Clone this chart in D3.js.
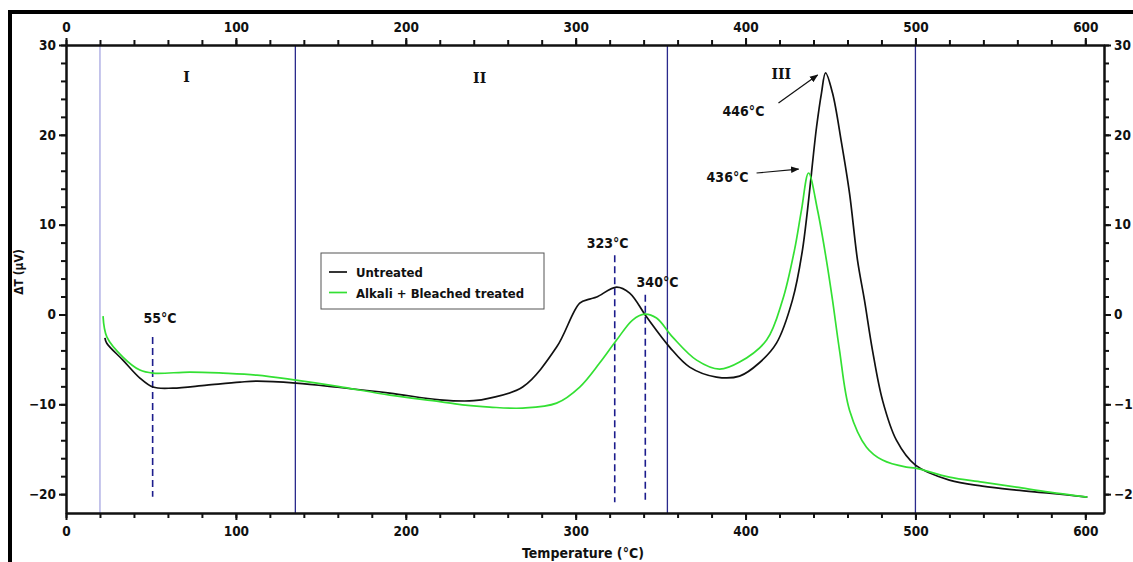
<!DOCTYPE html>
<meta charset="utf-8">
<head>
<script src="https://d3js.org/d3.v7.min.js"></script>
<style>
  body { margin: 0; background: #fff; }
  text { font-family: "DejaVu Sans Condensed", "Liberation Sans Narrow", sans-serif; font-weight: bold; fill: #111; }
  .roman { font-family: "DejaVu Serif", "Liberation Serif", serif; }
</style>
</head>
<body>
<svg id="chart" width="1133" height="562"></svg>
<script>

// curves: temperature (°C) and delta T (µV)
var untreatedTemp = [22.9, 24, 33.5, 43.5, 51.2, 62.9, 82.9, 102.4, 112.4, 135.3, 160, 190.6, 220, 240, 249.4,
  268.8, 288.8, 302.4, 308.2, 312.4, 324.1, 331.8, 341.8, 355.3, 367.1, 382.9, 396.5, 408, 418.2, 427.6,
  433.5, 441.8, 444.7, 447.1, 451.2, 456.5, 461.2, 465.9, 470, 474.7, 480.6, 488.8, 500, 520, 539.4,
  559.4, 578.8, 601.2];
var untreatedDT = [-2.6, -3.2, -5.08, -7.08, -8.08, -8.2, -7.86, -7.53, -7.42, -7.64, -8.1, -8.75, -9.5, -9.6, -9.31,
  -8.08, -3.63, 1.27, 1.71, 1.94, 3.05, 2.38, -0.29, -3.63, -5.86, -6.97, -6.86, -5.4, -3.19, 1.6,
  7.17, 20.87, 24.65, 26.9, 24.65, 19.1, 13.5, 6.06, 1.6, -3.96, -9.53, -13.99, -16.77, -18.44, -19.11,
  -19.55, -19.89, -20.33];

var treatedTemp = [21.8, 24.1, 33.5, 43.5, 51.2, 72.9, 92.4, 112.4, 135.3, 160, 190.6, 220, 235, 249.4, 268.8,
  288.8, 302.4, 314.1, 324.1, 333.5, 340.6, 347.6, 357.1, 371.2, 384.7, 396.5, 412.4, 421.8, 428.8, 432.9,
  437.1, 442.4, 447.6, 451.2, 455.3, 461.2, 471.2, 480.6, 494.7, 500, 520, 539.4, 559.4, 578.8, 601.2];
var treatedDT = [-0.18, -2.52, -4.74, -6.19, -6.53, -6.41, -6.53, -6.75, -7.31, -8.0, -8.98, -9.7, -10.1, -10.31, -10.42,
  -9.87, -8.08, -5.41, -2.85, -0.62, 0.04, -0.4, -2.52, -5.08, -6.08, -5.3, -2.85, 1.6, 7.17, 11.6,
  15.75, 11.6, 6.06, 1.6, -3.96, -10.65, -14.77, -16.21, -17.0, -17.1, -18.11, -18.66, -19.22, -19.78, -20.33];

var seriesNames = ["Untreated", "Alkali + Bleached treated"];
var seriesColors = ["#111111", "#33e033"];

var xTicks = [0, 100, 200, 300, 400, 500, 600];
var yTicks = [-20, -10, 0, 10, 20, 30];

// stage boundaries and names
var stageBounds = [20, 135, 354, 500];
var stageNames = ["I", "II", "III"];
var stageTemp = [71, 243.5, 421];
var stageDT = [25.9, 25.8, 26.2];

// dashed markers
var markerTemp = [51, 323, 341];
var markerTop = [-2.5, 6.6, 2.2];
var markerBottom = [-20.3, -20.9, -20.9];

// peak labels
var peakText = ["55°C", "323°C", "340°C", "446°C", "436°C"];
var peakTemp = [55.3, 318.8, 348.2, 398.8, 389.4];
var peakDT = [-0.96, 7.39, 3.05, 22.09, 14.74];

// arrows [from, to]
var arrowFrom = [[419.4, 23.54], [406.5, 15.75]];
var arrowTo = [[442.4, 26.66], [431.2, 16.19]];

var svg = d3.select("#chart");

var x = d3.scaleLinear().domain([0, 611]).range([66, 1104]);
var y = d3.scaleLinear().domain([-22.1, 30]).range([513, 45]);

// outer frame
svg.append("rect")
  .attr("x", 10).attr("y", 12)
  .attr("width", 1140).attr("height", 580)
  .attr("fill", "none")
  .attr("stroke", "#000")
  .attr("stroke-width", 4);

var defs = svg.append("defs");
defs.append("marker")
  .attr("id", "arrow")
  .attr("viewBox", "0 0 10 10")
  .attr("refX", 9).attr("refY", 5)
  .attr("markerWidth", 7).attr("markerHeight", 7)
  .attr("orient", "auto")
  .append("path")
  .attr("d", "M0,1L10,5L0,9z")
  .attr("fill", "#111");

// stage boundary lines
svg.append("g")
  .selectAll("line")
  .data(stageBounds)
  .enter()
  .append("line")
  .attr("x1", d => x(d)).attr("x2", d => x(d))
  .attr("y1", y(30)).attr("y2", y(-22.1))
  .attr("stroke", (d, i) => i == 0 ? "#8c8cd8" : "#2a2a8c")
  .attr("stroke-width", (d, i) => i == 0 ? 1 : 1.3);

// axes
function styleAxis(g) {
  g.selectAll("path").attr("stroke", "#111").attr("stroke-width", 2);
  g.selectAll("line").attr("stroke", "#111").attr("stroke-width", 2);
  g.selectAll("text").style("font-size", "13.5px").attr("fill", "#111");
}

var xMinor = d3.range(0, 611, 20);
var yMinor = d3.range(-20, 31, 2);

// minor ticks first
svg.append("g").attr("transform", "translate(0," + y(-22.1) + ")")
  .call(d3.axisBottom(x).tickValues(xMinor).tickSize(5).tickFormat("").tickSizeOuter(0)).call(styleAxis);
svg.append("g").attr("transform", "translate(0," + y(30) + ")")
  .call(d3.axisTop(x).tickValues(xMinor).tickSize(5).tickFormat("").tickSizeOuter(0)).call(styleAxis);
svg.append("g").attr("transform", "translate(" + x(0) + ",0)")
  .call(d3.axisLeft(y).tickValues(yMinor).tickSize(5).tickFormat("").tickSizeOuter(0)).call(styleAxis);
svg.append("g").attr("transform", "translate(" + x(611) + ",0)")
  .call(d3.axisRight(y).tickValues(yMinor).tickSize(5).tickFormat("").tickSizeOuter(0)).call(styleAxis);

// major ticks
svg.append("g").attr("transform", "translate(0," + y(-22.1) + ")")
  .call(d3.axisBottom(x).tickValues(xTicks).tickSize(7).tickPadding(6).tickSizeOuter(0)).call(styleAxis);
svg.append("g").attr("transform", "translate(0," + y(30) + ")")
  .call(d3.axisTop(x).tickValues(xTicks).tickSize(7).tickPadding(6).tickSizeOuter(0)).call(styleAxis);
svg.append("g").attr("transform", "translate(" + x(0) + ",0)")
  .call(d3.axisLeft(y).tickValues(yTicks).tickSize(7).tickPadding(3).tickSizeOuter(0)).call(styleAxis);
svg.append("g").attr("transform", "translate(" + x(611) + ",0)")
  .call(d3.axisRight(y).tickValues(yTicks).tickSize(7).tickPadding(3).tickSizeOuter(0)).call(styleAxis);

svg.selectAll(".domain").attr("stroke-width", 2);

// axis titles
svg.append("text")
  .attr("x", 583).attr("y", 558)
  .attr("text-anchor", "middle")
  .style("font-size", "14px")
  .text("Temperature (°C)");

svg.append("text")
  .attr("transform", "translate(23,272) rotate(-90)")
  .attr("text-anchor", "middle")
  .style("font-size", "12px")
  .text("ΔT (µV)");

// stage names
svg.append("g")
  .selectAll("text")
  .data(stageNames)
  .enter()
  .append("text")
  .attr("class", "roman")
  .attr("x", (d, i) => x(stageTemp[i]))
  .attr("y", (d, i) => y(stageDT[i]))
  .attr("text-anchor", "middle")
  .style("font-size", "14px")
  .text(d => d);

// dashed markers
svg.append("g")
  .selectAll("line")
  .data(markerTemp)
  .enter()
  .append("line")
  .attr("x1", d => x(d)).attr("x2", d => x(d))
  .attr("y1", (d, i) => y(markerTop[i]))
  .attr("y2", (d, i) => y(markerBottom[i]))
  .attr("stroke", "#1c1c8c")
  .attr("stroke-width", 1.6)
  .attr("stroke-dasharray", "7,4");

// curves
var line = d3.line()
  .x(d => x(d[0]))
  .y(d => y(d[1]))
  .curve(d3.curveCatmullRom.alpha(0.5));

var curves = [d3.zip(untreatedTemp, untreatedDT), d3.zip(treatedTemp, treatedDT)];

svg.append("g")
  .selectAll("path")
  .data(curves)
  .enter()
  .append("path")
  .attr("d", line)
  .attr("fill", "none")
  .attr("stroke", (d, i) => seriesColors[i])
  .attr("stroke-width", 1.7);

// peak labels
svg.append("g")
  .selectAll("text")
  .data(peakText)
  .enter()
  .append("text")
  .attr("x", (d, i) => x(peakTemp[i]))
  .attr("y", (d, i) => y(peakDT[i]))
  .attr("text-anchor", "middle")
  .style("font-size", "14px")
  .text(d => d);

// arrows
svg.append("g")
  .selectAll("line")
  .data(arrowFrom)
  .enter()
  .append("line")
  .attr("x1", d => x(d[0])).attr("y1", d => y(d[1]))
  .attr("x2", (d, i) => x(arrowTo[i][0])).attr("y2", (d, i) => y(arrowTo[i][1]))
  .attr("stroke", "#111")
  .attr("stroke-width", 1.2)
  .attr("marker-end", "url(#arrow)");

// legend
var legend = svg.append("g").attr("transform", "translate(321,253)");
legend.append("rect")
  .attr("width", 223).attr("height", 56)
  .attr("fill", "#fff")
  .attr("stroke", "#555")
  .attr("stroke-width", 1);

var items = legend.selectAll(".item")
  .data(seriesNames)
  .enter()
  .append("g")
  .attr("class", "item")
  .attr("transform", (d, i) => "translate(0," + (19 + i * 20.5) + ")");

items.append("line")
  .attr("x1", 8).attr("x2", 26)
  .attr("stroke", (d, i) => seriesColors[i])
  .attr("stroke-width", 1.7);

items.append("text")
  .attr("x", 35).attr("y", 5)
  .style("font-size", "13px")
  .text(d => d);

</script>
</body>
</html>
